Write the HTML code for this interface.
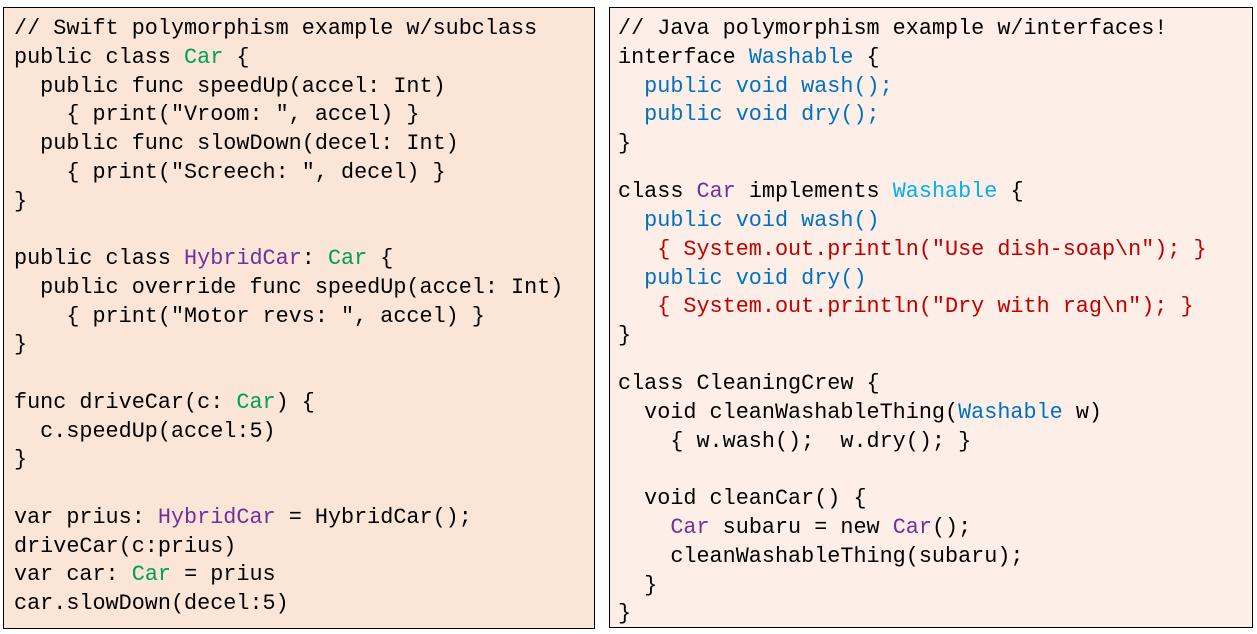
<!DOCTYPE html>
<html><head><style>
html,body{margin:0;padding:0;background:#fff;width:1257px;height:634px;overflow:hidden}
.box{position:absolute;border:1.5px solid #000;box-sizing:border-box;padding:7px 0 0 10px;font-family:"Liberation Mono",monospace;font-size:21.8px;line-height:28.75px;white-space:pre;color:#000}
#l{left:3px;top:7px;width:592px;height:622px;background:#FBE5D6}
#r{left:609px;top:7px;width:644px;height:621px;background:#FDEFE8;padding-left:8px}
.g{color:#00A050}.p{color:#7030A0}.b{color:#0070C0}.c{color:#00B0F0}.rd{color:#C00000}
.sp{height:19.5px}
</style></head><body>
<div class="box" id="l">// Swift polymorphism example w/subclass
public class <span class="g">Car</span> {
  public func speedUp(accel: Int)
    { print("Vroom: ", accel) }
  public func slowDown(decel: Int)
    { print("Screech: ", decel) }
}

public class <span class="p">HybridCar</span>: <span class="g">Car</span> {
  public override func speedUp(accel: Int)
    { print("Motor revs: ", accel) }
}

func driveCar(c: <span class="g">Car</span>) {
  c.speedUp(accel:5)
}

var prius: <span class="p">HybridCar</span> = HybridCar();
driveCar(c:prius)
var car: <span class="g">Car</span> = prius
car.slowDown(decel:5)</div>
<div class="box" id="r"><div>// Java polymorphism example w/interfaces!
interface <span class="b">Washable</span> {
<span class="b">  public void wash();
  public void dry();</span>
}</div><div class="sp"></div><div>class <span class="p">Car</span> implements <span class="c">Washable</span> {
<span class="b">  public void wash()</span>
<span class="rd">   { System.out.println("Use dish-soap\n"); }</span>
<span class="b">  public void dry()</span>
<span class="rd">   { System.out.println("Dry with rag\n"); }</span>
}</div><div class="sp"></div><div>class CleaningCrew {
  void cleanWashableThing(<span class="b">Washable</span> w)
    { w.wash();  w.dry(); }

  void cleanCar() {
    <span class="p">Car</span> subaru = new <span class="p">Car</span>();
    cleanWashableThing(subaru);
  }
}</div></div>
</body></html>
